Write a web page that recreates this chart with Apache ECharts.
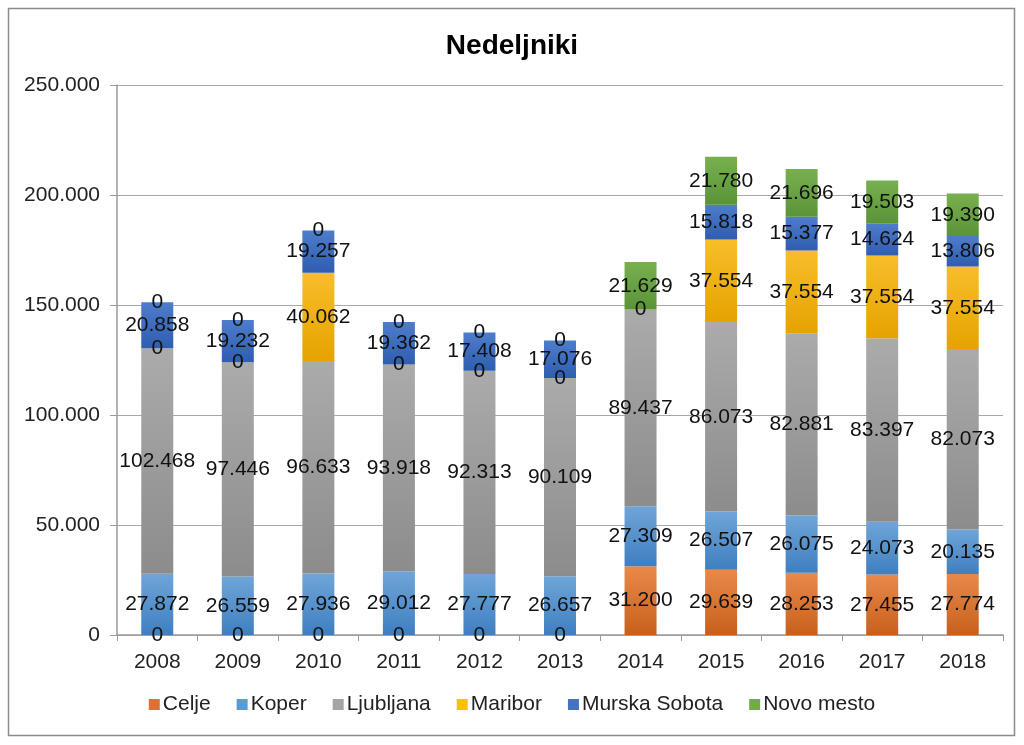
<!DOCTYPE html>
<html>
<head>
<meta charset="utf-8">
<script src="https://cdn.jsdelivr.net/npm/echarts@6/dist/echarts.min.js"></script>
<style>
html,body{margin:0;padding:0;background:#fff;}
#chart{width:1024px;height:745px;}
</style>
</head>
<body>
<div id="chart"></div>
<script>
const years = ['2008','2009','2010','2011','2012','2013','2014','2015','2016','2017','2018'];
const celje = [0,0,0,0,0,0,31200,29639,28253,27455,27774];
const koper = [27872,26559,27936,29012,27777,26657,27309,26507,26075,24073,20135];
const ljubljana = [102468,97446,96633,93918,92313,90109,89437,86073,82881,83397,82073];
const maribor = [0,0,40062,0,0,0,0,37554,37554,37554,37554];
const murskaSobota = [20858,19232,19257,19362,17408,17076,null,15818,15377,14624,13806];
const novoMesto = [0,0,0,0,0,0,21629,21780,21696,19503,19390];
const yTicks = [0,50000,100000,150000,200000,250000];

function fmt(v){
  return String(Math.round(v)).replace(/\B(?=(\d{3})+(?!\d))/g,'.');
}
function grad(top,bottom){
  return new echarts.graphic.LinearGradient(0,0,0,1,[{offset:0,color:top},{offset:1,color:bottom}]);
}
const seriesDefs = [
  {name:'Celje', data:celje, c1:'#E8894A', c2:'#C8601C', leg:'#E07030'},
  {name:'Koper', data:koper, c1:'#6FA5D8', c2:'#3F7FC0', leg:'#5B9BD5'},
  {name:'Ljubljana', data:ljubljana, c1:'#ABABAB', c2:'#8C8C8C', leg:'#A5A5A5'},
  {name:'Maribor', data:maribor, c1:'#F7BE2A', c2:'#E6A300', leg:'#FFC000'},
  {name:'Murska Sobota', data:murskaSobota, c1:'#4D7DCB', c2:'#2F5DB0', leg:'#4472C4'},
  {name:'Novo mesto', data:novoMesto, c1:'#78B04F', c2:'#5A9437', leg:'#70AD47'}
];
const font = '"Liberation Sans", Arial, sans-serif';
const chart = echarts.init(document.getElementById('chart'));
chart.setOption({
  animation:false,
  backgroundColor:'#fff',
  title:{
    text:'Nedeljniki', left:'center', top:27,
    textStyle:{fontFamily:'"Liberation Sans Narrow", "Liberation Sans", Arial, sans-serif', fontWeight:'bold', fontSize:28, color:'#000'}
  },
  graphic:[{type:'rect', shape:{x:8.5,y:8.5,width:1006,height:727}, style:{fill:null, stroke:'#8c8c8c', lineWidth:1.5}, silent:true}],
  legend:{
    bottom:25, left:'center', itemWidth:11, itemHeight:11, itemGap:26,
    icon:'rect',
    textStyle:{fontFamily:font, fontSize:21, color:'#222', padding:[0,0,0,-2]},
    data: seriesDefs.map(s=>({name:s.name, itemStyle:{color:s.leg}}))
  },
  grid:{left:117, right:21, top:85, bottom:110, containLabel:false},
  xAxis:{
    type:'category', data:years,
    axisLine:{lineStyle:{color:'#9a9a9a', width:1.5}},
    axisTick:{show:true, length:6, lineStyle:{color:'#9a9a9a'}},
    axisLabel:{fontFamily:font, fontSize:21, color:'#222', margin:17}
  },
  yAxis:{
    type:'value', min:0, max:250000, interval:50000,
    axisLine:{show:true, lineStyle:{color:'#9a9a9a', width:1.5}},
    axisTick:{show:true, length:7, lineStyle:{color:'#9a9a9a'}},
    splitLine:{lineStyle:{color:'#a8a8a8', width:1}},
    axisLabel:{fontFamily:font, fontSize:21, color:'#222', margin:17, formatter:v=>fmt(v)}
  },
  series: seriesDefs.map(s=>({
    name:s.name, type:'bar', stack:'total', barWidth:32,
    data:s.data,
    itemStyle:{color:grad(s.c1,s.c2)},
    label:{show:true, position:'inside', fontFamily:font, fontSize:21, color:'#111',
      formatter:p=> (p.value===null||p.value===undefined||p.value==='-') ? '' : fmt(p.value)}
  }))
});
</script>
</body>
</html>
